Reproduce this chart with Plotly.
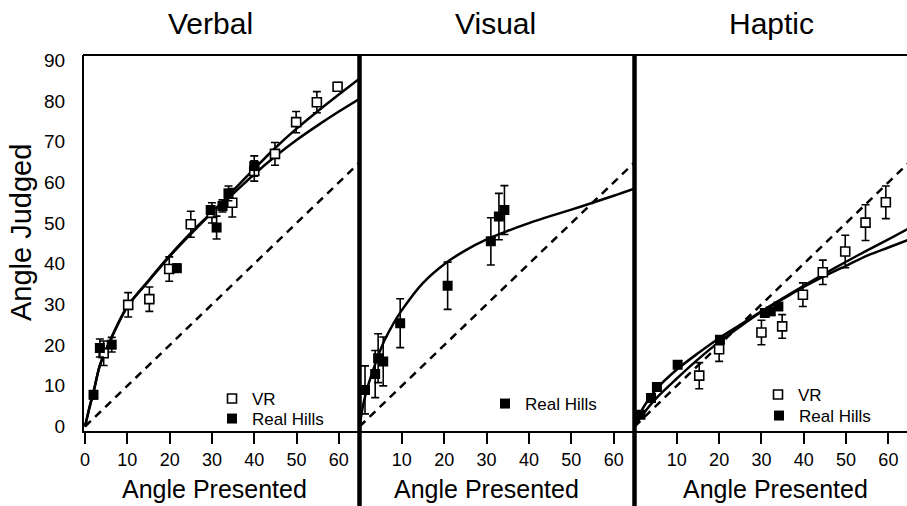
import plotly.graph_objects as go

# ---------------- data ----------------
identity_x = [0, 65]
identity_y = [0, 65]

# Verbal
verbal_vr_x = [4.4, 10.2, 15.2, 19.9, 25.0, 30.0, 34.8, 40.0, 44.9, 49.9, 54.8, 59.7]
verbal_vr_y = [18.0, 29.9, 31.3, 38.7, 49.7, 52.5, 55.0, 62.8, 67.0, 74.8, 79.7, 83.5]
verbal_vr_err = [3.0, 3.0, 3.0, 3.0, 3.2, 2.5, 3.5, 2.5, 2.8, 2.6, 2.6, 1.0]
verbal_rh_x = [2.0, 3.5, 6.3, 21.7, 29.7, 31.1, 32.5, 33.9, 40.0]
verbal_rh_y = [7.8, 19.3, 20.1, 38.9, 53.2, 48.9, 54.2, 57.3, 64.0]
verbal_rh_err = [1.0, 2.2, 1.8, 1.0, 1.0, 2.8, 1.5, 1.8, 2.5]
verbal_vr_fit_x = [0, 1, 2, 3.5, 6, 10, 15, 20, 25, 30, 35, 40, 45, 50, 55, 60, 65]
verbal_vr_fit_y = [0, 4.5, 8.5, 15.0, 21.3, 29.5, 35.7, 41.8, 47.3, 52.6, 58.0, 63.3, 68.5, 73.2, 77.5, 81.6, 85.6]
verbal_rh_fit_x = [0, 1, 2, 3.5, 6, 10, 15, 20, 25, 30, 35, 40, 45, 50, 55, 60, 65]
verbal_rh_fit_y = [0, 4.5, 8.5, 15.0, 21.3, 29.5, 35.9, 42.0, 47.6, 52.6, 57.2, 62.0, 66.4, 70.4, 74.0, 77.4, 80.6]

# Visual
visual_rh_x = [1.3, 3.7, 4.4, 5.6, 9.6, 20.8, 31.0, 32.9, 34.2]
visual_rh_y = [9.0, 12.9, 16.8, 16.0, 25.4, 34.6, 45.5, 51.6, 53.2]
visual_rh_err = [5.9, 5.8, 6.0, 6.0, 6.0, 5.8, 5.8, 5.7, 6.0]
visual_fit_x = [0, 1, 2, 3, 4, 5, 6, 8, 10, 15, 20, 25, 30, 35, 40, 45, 50, 55, 60, 65]
visual_fit_y = [0, 6.0, 10.0, 13.2, 16.2, 19.0, 21.4, 25.3, 28.6, 35.3, 39.9, 43.3, 46.0, 48.1, 50.0, 51.7, 53.3, 55.0, 56.7, 58.5]

# Haptic
haptic_vr_x = [15.3, 20.0, 30.0, 34.9, 39.8, 44.5, 49.8, 54.6, 59.4]
haptic_vr_y = [12.5, 19.0, 23.1, 24.6, 32.4, 37.9, 43.0, 50.1, 55.1]
haptic_vr_err = [3.2, 3.0, 3.0, 2.9, 2.9, 3.0, 4.0, 4.4, 4.0]
haptic_rh_x = [1.4, 3.9, 5.3, 10.2, 20.2, 30.8, 32.2, 34.0]
haptic_rh_y = [2.9, 7.0, 9.7, 15.2, 21.3, 27.9, 28.3, 29.5]
haptic_vr_fit_x = [0, 2, 5, 10, 15, 20, 25, 30, 35, 40, 45, 50, 55, 60, 65]
haptic_vr_fit_y = [0, 3.0, 6.8, 11.8, 16.5, 20.8, 24.6, 28.2, 31.5, 34.6, 37.6, 40.5, 43.3, 46.0, 48.8]
haptic_rh_fit_x = [0, 2, 5, 10, 15, 20, 25, 30, 35, 40, 45, 50, 55, 60, 65]
haptic_rh_fit_y = [0, 4.5, 9.0, 14.0, 18.0, 21.7, 25.0, 28.3, 31.3, 34.3, 37.0, 39.5, 42.0, 44.0, 46.0]

panel_titles = ["Verbal", "Visual", "Haptic"]
x_title = "Angle Presented"
y_title = "Angle Judged"
y_ticks = [0, 10, 20, 30, 40, 50, 60, 70, 80, 90]
x_ticks_first = [0, 10, 20, 30, 40, 50, 60]
x_ticks_other = [10, 20, 30, 40, 50, 60]

# ---------------- figure ----------------
W, H = 907, 506
FONT = "Liberation Sans, Arial, sans-serif"
BLACK = "#000000"

def px(x):
    return x / W

def py(y):
    return 1 - y / H

fig = go.Figure()

def add_panel(n, fits, vr, rh, vr_legend, rh_legend):
    xa = "x" if n == 1 else f"x{n}"
    ya = "y" if n == 1 else f"y{n}"
    fig.add_trace(go.Scatter(x=identity_x, y=identity_y, mode="lines", xaxis=xa, yaxis=ya,
                             line=dict(color=BLACK, width=2.5, dash="8px,6px"), showlegend=False,
                             hoverinfo="skip"))
    for fx, fy in fits:
        fig.add_trace(go.Scatter(x=fx, y=fy, mode="lines", xaxis=xa, yaxis=ya,
                                 line=dict(color=BLACK, width=2.5, shape="spline", smoothing=0.8),
                                 showlegend=False, hoverinfo="skip"))
    if vr is not None:
        vx, vy, ve = vr
        fig.add_trace(go.Scatter(x=vx, y=vy, mode="markers", xaxis=xa, yaxis=ya, name="VR",
                                 legend=vr_legend,
                                 marker=dict(symbol="square", size=9, color="white",
                                             line=dict(color=BLACK, width=1.6)),
                                 error_y=dict(type="data", array=ve, visible=True, color=BLACK,
                                              thickness=1.6, width=4)))
    if rh is not None:
        rx, ry, re = rh
        err = dict(visible=False) if re is None else dict(type="data", array=re, visible=True,
                                                            color=BLACK, thickness=1.6, width=4)
        fig.add_trace(go.Scatter(x=rx, y=ry, mode="markers", xaxis=xa, yaxis=ya, name="Real Hills",
                                 legend=rh_legend,
                                 marker=dict(symbol="square", size=10, color=BLACK,
                                             line=dict(color=BLACK, width=0)),
                                 error_y=err))

add_panel(1, [(verbal_vr_fit_x, verbal_vr_fit_y), (verbal_rh_fit_x, verbal_rh_fit_y)],
          (verbal_vr_x, verbal_vr_y, verbal_vr_err), (verbal_rh_x, verbal_rh_y, verbal_rh_err),
          "legend", "legend2")
add_panel(2, [(visual_fit_x, visual_fit_y)], None, (visual_rh_x, visual_rh_y, visual_rh_err),
          None, "legend3")
add_panel(3, [(haptic_vr_fit_x, haptic_vr_fit_y), (haptic_rh_fit_x, haptic_rh_fit_y)],
          (haptic_vr_x, haptic_vr_y, haptic_vr_err), (haptic_rh_x, haptic_rh_y, None),
          "legend4", "legend5")

top_px, bottom_px = 55, 431
ydom = [py(bottom_px), py(top_px)]

xcommon = dict(showgrid=False, zeroline=False, showline=True, linecolor=BLACK, linewidth=2,
               ticks="outside", ticklen=11, tickwidth=2, tickcolor=BLACK, automargin=False,
               tickfont=dict(family=FONT, size=18, color=BLACK))
ycommon = dict(showgrid=False, zeroline=False, domain=ydom, range=[-1.1, 91.3], automargin=False)

layout = dict(
    template="none",
    width=W, height=H, margin=dict(l=0, r=0, t=0, b=0, pad=0), autosize=False,
    paper_bgcolor="white", plot_bgcolor="white",
    font=dict(family=FONT, color=BLACK),
    xaxis=dict(xcommon, domain=[px(84), px(360)], range=[-0.25, 65], tickvals=x_ticks_first, anchor="y"),
    xaxis2=dict(xcommon, domain=[px(359.5), px(634.5)], range=[0, 64.9], tickvals=x_ticks_other, anchor="y2"),
    xaxis3=dict(xcommon, domain=[px(634.5), 1], range=[0, 64.4], tickvals=x_ticks_other, anchor="y3"),
    yaxis=dict(ycommon, anchor="x", showline=True, linecolor=BLACK, linewidth=2, ticks="",
               tickvals=y_ticks, ticklabelstandoff=13,
               tickfont=dict(family=FONT, size=19, color=BLACK)),
    yaxis2=dict(ycommon, anchor="x2", showline=False, showticklabels=False, ticks=""),
    yaxis3=dict(ycommon, anchor="x3", showline=False, showticklabels=False, ticks=""),
    showlegend=True,
)

legend_style = dict(bgcolor="rgba(0,0,0,0)", borderwidth=0, font=dict(family=FONT, size=17, color=BLACK),
                    xanchor="left", yanchor="top", tracegroupgap=0, itemwidth=30)
layout["legend"] = dict(legend_style, x=px(212), y=py(381))
layout["legend2"] = dict(legend_style, x=px(212), y=py(401))
layout["legend3"] = dict(legend_style, x=px(485), y=py(386))
layout["legend4"] = dict(legend_style, x=px(758), y=py(377))
layout["legend5"] = dict(legend_style, x=px(759), y=py(398))

fig.update_layout(**layout)

# separators and top frame
shapes = [
    dict(type="line", xref="paper", yref="paper", x0=px(83), x1=1, y0=py(top_px), y1=py(top_px),
         line=dict(color=BLACK, width=2)),
    dict(type="line", xref="paper", yref="paper", x0=px(359.5), x1=px(359.5), y0=py(top_px), y1=0,
         line=dict(color=BLACK, width=4.5)),
    dict(type="line", xref="paper", yref="paper", x0=px(634.5), x1=px(634.5), y0=py(top_px), y1=0,
         line=dict(color=BLACK, width=4.5)),
]
fig.update_layout(shapes=shapes)

annotations = []
for title, cx in zip(panel_titles, [210, 495, 771]):
    annotations.append(dict(text=title, x=px(cx), y=py(24), xref="paper", yref="paper",
                            showarrow=False, xanchor="center", yanchor="middle",
                            font=dict(family=FONT, size=30, color=BLACK)))
for cx in [214, 486, 775]:
    annotations.append(dict(text=x_title, x=px(cx), y=py(489), xref="paper", yref="paper",
                            showarrow=False, xanchor="center", yanchor="middle",
                            font=dict(family=FONT, size=25, color=BLACK)))
annotations.append(dict(text=y_title, x=px(21), y=py(233), xref="paper", yref="paper",
                        showarrow=False, xanchor="center", yanchor="middle", textangle=-90,
                        font=dict(family=FONT, size=29, color=BLACK)))
fig.update_layout(annotations=annotations)

fig.write_html("out.html", config={"displayModeBar": False},
               post_script="document.body.style.margin='0';document.body.style.overflow='hidden';")
